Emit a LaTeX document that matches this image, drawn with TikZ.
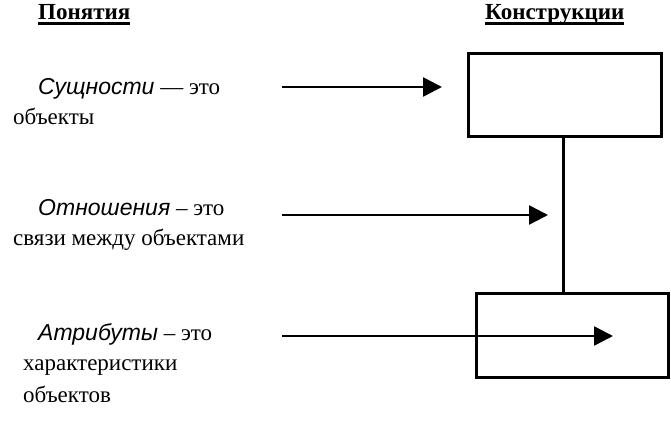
\documentclass[tikz,border=0pt]{standalone}
\usepackage{fontspec}
\setmainfont{Liberation Serif}
\newfontfamily\arialit[ItalicFont={Liberation Sans Italic}]{Liberation Sans}
\usetikzlibrary{arrows.meta}
\newcommand\thickul[1]{\setbox0\hbox{#1}\rlap{\raisebox{-5pt}{\rule{\wd0}{2.6pt}}}\box0}
\begin{document}
\begin{tikzpicture}[x=1pt,y=-1pt,
  txt/.style={anchor=base west,inner sep=0pt,font=\fontsize{23}{26}\selectfont},
  head/.style={anchor=base west,inner sep=0pt,font=\fontsize{23}{26}\selectfont\bfseries},
  conbox/.style={draw,line width=3pt,inner sep=0pt},
  arr/.style={line width=2.5pt,-{Triangle[length=19pt,width=19pt]}},
  link/.style={line width=3pt}]
\useasboundingbox (0,0) rectangle (671,422);
% headers
\node[head] (h1) at (38,20) {\thickul{Понятия}};
\node[head] (h2) at (485,20) {\thickul{Конструкции}};
% left texts
\node[txt] (t1a) at (38,95) {{\arialit\itshape Сущности} — это};
\node[txt] (t1b) at (13,125) {объекты};
\node[txt] (t2a) at (38,215) {{\arialit\itshape Отношения} – это};
\node[txt] (t2b) at (13,245) {связи между объектами};
\node[txt] (t3a) at (38,340) {{\arialit\itshape Атрибуты} – это};
\node[txt] (t3b) at (23,370) {характеристики};
\node[txt] (t3c) at (23,402) {объектов};
% boxes
\node[conbox,minimum width=193pt,minimum height=83pt] (b1) at (564.5,95.5) {};
\node[conbox,minimum width=192pt,minimum height=84pt] (b2) at (572,335) {};
\draw[link] (b1.south -| 563,0) -- (b2.north -| 563,0);
% arrows
\coordinate (s1) at (282,87);
\coordinate (e1) at (442,87);
\coordinate (s2) at (282,215);
\coordinate (e2) at (548,215);
\coordinate (s3) at (282,336);
\coordinate (e3) at (613,336);
\draw[arr] (s1) -- (e1);
\draw[arr] (s2) -- (e2);
\draw[arr] (s3) -- (e3);
\end{tikzpicture}
\end{document}
